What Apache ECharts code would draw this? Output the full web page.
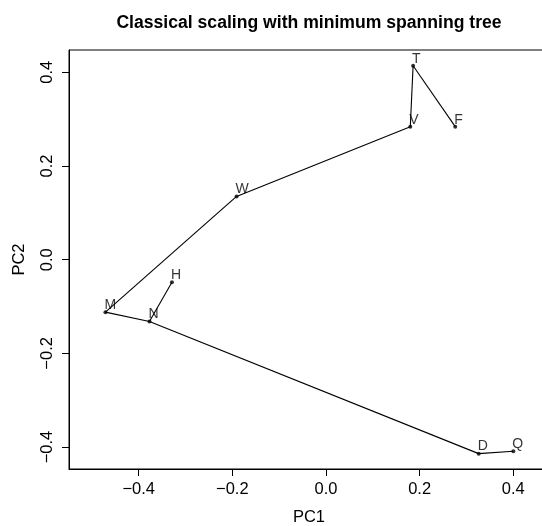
<!DOCTYPE html>
<html>
<head>
<meta charset="utf-8">
<script src="https://cdn.jsdelivr.net/npm/echarts@6/dist/echarts.min.js"></script>
<style>
  html, body { margin: 0; padding: 0; background: #fff; }
  #chart { width: 542px; height: 526px; }
</style>
</head>
<body>
<div id="chart"></div>
<script>
// point names and their classical scaling coordinates
var names = ['T', 'V', 'F', 'W', 'H', 'M', 'N', 'D', 'Q'];
var pc1 = [0.186, 0.180, 0.276, -0.191, -0.329, -0.471, -0.377, 0.326, 0.400];
var pc2 = [0.414, 0.284, 0.284, 0.135, -0.048, -0.112, -0.132, -0.414, -0.409];

// minimum spanning tree edges
var edges = [['T', 'V'], ['T', 'F'], ['V', 'W'], ['W', 'M'], ['M', 'N'], ['N', 'H'], ['N', 'D'], ['D', 'Q']];

var ticks = [-0.4, -0.2, 0.0, 0.2, 0.4];

// axis ranges
var xMin = -0.5488, xMax = 0.4762;
var yMin = -0.4468, yMax = 0.4476;

var font = 'Liberation Sans, Arial, Helvetica, sans-serif';

function fmt(v) {
    return (v < 0 ? '\u2212' : '') + Math.abs(v).toFixed(1);
}

function coordOf(n) {
    var i = names.indexOf(n);
    return [pc1[i], pc2[i]];
}

var pointData = names.map(function (n, i) {
    return { name: n, value: [pc1[i], pc2[i]] };
});

var edgeData = edges.map(function (e) {
    return { coords: [coordOf(e[0]), coordOf(e[1])] };
});

var chart = echarts.init(document.getElementById('chart'));

var option = {
    animation: false,
    backgroundColor: '#fff',
    textStyle: { fontFamily: font },
    title: {
        text: 'Classical scaling with minimum spanning tree',
        left: 309,
        top: 14,
        padding: 0,
        textAlign: 'center',
        textStyle: { fontFamily: font, fontSize: 17.6, fontWeight: 'bold', color: '#000' }
    },
    grid: {
        left: 69,
        top: 50,
        width: 480,
        height: 419,
        containLabel: false,
        outerBoundsMode: 'none',
        show: true,
        borderColor: '#000',
        borderWidth: 1,
        backgroundColor: 'transparent'
    },
    xAxis: {
        type: 'value',
        min: xMin,
        max: xMax,
        name: 'PC1',
        nameLocation: 'middle',
        nameGap: 40,
        nameMoveOverlap: false,
        nameTextStyle: { fontFamily: font, fontSize: 16.5, color: '#000' },
        axisLine: { show: true, onZero: false, lineStyle: { color: '#000', width: 1 } },
        splitLine: { show: false },
        axisTick: { show: true, length: 7, customValues: ticks, lineStyle: { color: '#000', width: 1 } },
        axisLabel: { customValues: ticks, formatter: fmt, margin: 12, fontSize: 16.5, color: '#000', fontFamily: font }
    },
    yAxis: {
        type: 'value',
        min: yMin,
        max: yMax,
        name: 'PC2',
        nameLocation: 'middle',
        nameGap: 41,
        nameMoveOverlap: false,
        nameTextStyle: { fontFamily: font, fontSize: 16.5, color: '#000' },
        axisLine: { show: true, onZero: false, lineStyle: { color: '#000', width: 1 } },
        splitLine: { show: false },
        axisTick: { show: true, length: 7, customValues: ticks, lineStyle: { color: '#000', width: 1 } },
        axisLabel: { customValues: ticks, formatter: fmt, rotate: 90, margin: 13, fontSize: 16.5, color: '#000', fontFamily: font }
    },
    series: [
        {
            type: 'lines',
            coordinateSystem: 'cartesian2d',
            silent: true,
            z: 1,
            lineStyle: { color: '#000', width: 1.1, opacity: 1 },
            data: edgeData
        },
        {
            type: 'scatter',
            z: 2,
            symbol: 'circle',
            symbolSize: 4,
            itemStyle: { color: '#000' },
            label: {
                show: true,
                formatter: '{b}',
                position: [1, 2],
                align: 'left',
                verticalAlign: 'bottom',
                fontFamily: font,
                fontSize: 14,
                color: '#000'
            },
            data: pointData
        }
    ]
};

chart.setOption(option);
</script>
</body>
</html>
